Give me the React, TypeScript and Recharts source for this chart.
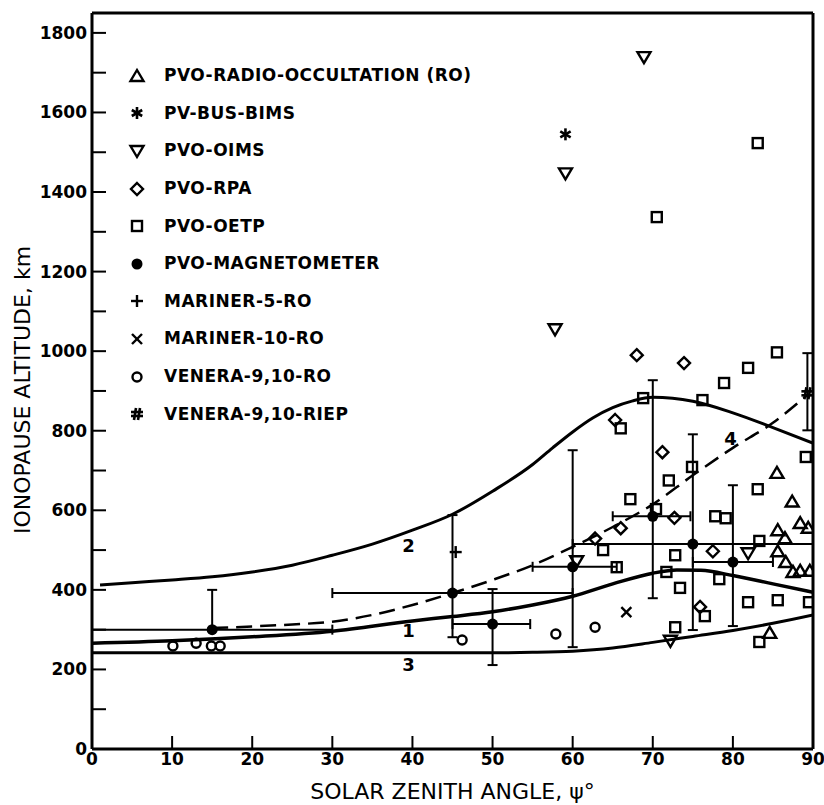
import React from 'react';
import { ComposedChart, Line, Scatter, XAxis, YAxis, ErrorBar, Legend, Label } from 'recharts';

const FONT = "'DejaVu Sans', sans-serif";

// axis ticks
const xTicks = [0, 10, 20, 30, 40, 50, 60, 70, 80, 90];
const xTopTicks = [10, 20, 30, 40, 50, 60, 70, 80];
const yTicks = [0, 100, 200, 300, 400, 500, 600, 700, 800, 900, 1000, 1100, 1200, 1300, 1400, 1500, 1600, 1700, 1800];
const yRightTicks = [100, 200, 300, 400, 500, 600, 700, 800, 900, 1000, 1100, 1200, 1300, 1400, 1500, 1600, 1700, 1800];

// model curves
const curve1 = [
  { x: 0, y: 266 }, { x: 10, y: 272 }, { x: 20, y: 282 }, { x: 30, y: 296 }, { x: 40, y: 322 },
  { x: 45, y: 333 }, { x: 50, y: 345 }, { x: 55, y: 362 }, { x: 60, y: 384 }, { x: 65, y: 415 },
  { x: 70, y: 442 }, { x: 73, y: 450 }, { x: 76, y: 449 }, { x: 80, y: 436 }, { x: 85, y: 415 }, { x: 90, y: 394 },
];
const curve2 = [
  { x: 1, y: 412 }, { x: 5, y: 418 }, { x: 10, y: 425 }, { x: 15, y: 433 }, { x: 20, y: 445 },
  { x: 25, y: 462 }, { x: 30, y: 487 }, { x: 35, y: 515 }, { x: 40, y: 550 }, { x: 45, y: 590 },
  { x: 50, y: 648 }, { x: 55, y: 715 }, { x: 57.5, y: 757 }, { x: 60, y: 797 }, { x: 62.5, y: 832 },
  { x: 65, y: 858 }, { x: 67.5, y: 875 }, { x: 70, y: 884 }, { x: 75, y: 874 }, { x: 80, y: 845 },
  { x: 85, y: 808 }, { x: 90, y: 769 },
];
const curve3 = [
  { x: 0, y: 242 }, { x: 20, y: 242 }, { x: 40, y: 242 }, { x: 50, y: 242 }, { x: 55, y: 243 },
  { x: 60, y: 246 }, { x: 65, y: 254 }, { x: 70, y: 268 }, { x: 75, y: 283 }, { x: 80, y: 298 },
  { x: 85, y: 316 }, { x: 90, y: 337 },
];
const curve4 = [
  { x: 15, y: 304 }, { x: 20, y: 308 }, { x: 25, y: 313 }, { x: 30, y: 320 }, { x: 35, y: 337 },
  { x: 40, y: 362 }, { x: 45, y: 392 }, { x: 50, y: 425 }, { x: 55, y: 462 }, { x: 60, y: 508 },
  { x: 65, y: 558 }, { x: 70, y: 615 }, { x: 75, y: 688 }, { x: 80, y: 757 }, { x: 85, y: 820 }, { x: 89.3, y: 890 },
];
const curveLabels = [
  { x: 39.5, y: 512, text: '2' },
  { x: 39.5, y: 297, text: '1' },
  { x: 39.5, y: 212, text: '3' },
  { x: 79.7, y: 781, text: '4' },
];

// observations
const roPoints = [
  { x: 84.6, y: 292 }, { x: 85.5, y: 694 }, { x: 87.4, y: 622 }, { x: 88.4, y: 568 }, { x: 89.4, y: 556 },
  { x: 85.6, y: 550 }, { x: 86.5, y: 530 }, { x: 85.6, y: 497 }, { x: 86.6, y: 470 }, { x: 87.5, y: 445 },
  { x: 88.4, y: 448 }, { x: 89.6, y: 448 },
];
const bimsPoints = [{ x: 59.1, y: 1545 }];
const oimsPoints = [
  { x: 68.9, y: 1739 }, { x: 59.1, y: 1447 }, { x: 57.8, y: 1055 }, { x: 60.5, y: 472 },
  { x: 81.9, y: 492 }, { x: 72.2, y: 272 },
];
const rpaPoints = [
  { x: 68.0, y: 990 }, { x: 73.9, y: 970 }, { x: 65.3, y: 827 }, { x: 71.2, y: 746 }, { x: 72.7, y: 581 },
  { x: 66.0, y: 555 }, { x: 62.8, y: 529 }, { x: 77.5, y: 497 }, { x: 75.9, y: 357 },
];
const oetpPoints = [
  { x: 83.1, y: 1523 }, { x: 70.5, y: 1337 }, { x: 85.5, y: 997 }, { x: 81.9, y: 958 }, { x: 78.9, y: 920 },
  { x: 68.8, y: 882 }, { x: 76.2, y: 877 }, { x: 66.0, y: 806 }, { x: 89.1, y: 734 }, { x: 74.9, y: 709 },
  { x: 72.0, y: 675 }, { x: 83.1, y: 653 }, { x: 67.2, y: 628 }, { x: 70.4, y: 603 }, { x: 77.8, y: 585 },
  { x: 79.1, y: 580 }, { x: 83.3, y: 523 }, { x: 63.8, y: 500 }, { x: 72.8, y: 487 }, { x: 65.5, y: 457 },
  { x: 71.7, y: 445 }, { x: 78.3, y: 427 }, { x: 73.4, y: 405 }, { x: 81.9, y: 369 }, { x: 85.6, y: 374 },
  { x: 89.5, y: 369 }, { x: 76.5, y: 334 }, { x: 72.8, y: 306 }, { x: 83.3, y: 269 },
];
const magPoints = [
  { x: 15, y: 300, ex: [15, 15], ey: [0, 100] },
  { x: 45, y: 392, ex: [15, 15], ey: [111, 196] },
  { x: 50, y: 314, ex: [5, 4.7], ey: [103, 88] },
  { x: 60, y: 458, ex: [5, 5.5], ey: [202, 293] },
  { x: 70, y: 585, ex: [5, 4.7], ey: [206, 342] },
  { x: 75, y: 515, ex: [15, 15], ey: [216, 276] },
  { x: 80, y: 470, ex: [5, 5], ey: [161, 193] },
];
const mariner5Points = [{ x: 45.4, y: 495 }];
const mariner10Points = [{ x: 66.7, y: 344 }];
const veneraRoPoints = [
  { x: 10.1, y: 259 }, { x: 13.0, y: 266 }, { x: 14.9, y: 259 }, { x: 16.0, y: 259 },
  { x: 46.2, y: 274 }, { x: 57.9, y: 289 }, { x: 62.8, y: 306 },
];
const veneraRiepPoints = [{ x: 89.3, y: 894, ey: [93, 101] }];

const legendItems = [
  { kind: 'tri', label: 'PVO-RADIO-OCCULTATION (RO)' },
  { kind: 'star', label: 'PV-BUS-BIMS' },
  { kind: 'tridown', label: 'PVO-OIMS' },
  { kind: 'diamond', label: 'PVO-RPA' },
  { kind: 'square', label: 'PVO-OETP' },
  { kind: 'dot', label: 'PVO-MAGNETOMETER' },
  { kind: 'plus', label: 'MARINER-5-RO' },
  { kind: 'cross', label: 'MARINER-10-RO' },
  { kind: 'circle', label: 'VENERA-9,10-RO' },
  { kind: 'hash', label: 'VENERA-9,10-RIEP' },
];

function marker(kind: string, cx: number, cy: number) {
  const s = { fill: 'none', stroke: '#000', strokeWidth: 2.4 };
  switch (kind) {
    case 'tri':
      return <path d={`M${cx},${cy - 6}L${cx + 6.5},${cy + 5}L${cx - 6.5},${cy + 5}Z`} {...s} />;
    case 'tridown':
      return <path d={`M${cx},${cy + 6}L${cx + 6.5},${cy - 5}L${cx - 6.5},${cy - 5}Z`} {...s} />;
    case 'diamond':
      return <path d={`M${cx},${cy - 6}L${cx + 6},${cy}L${cx},${cy + 6}L${cx - 6},${cy}Z`} {...s} />;
    case 'square':
      return <rect x={cx - 5} y={cy - 5} width={10} height={10} {...s} />;
    case 'dot':
      return <circle cx={cx} cy={cy} r={5.5} fill="#000" />;
    case 'circle':
      return <circle cx={cx} cy={cy} r={4.5} {...s} />;
    case 'plus':
      return (
        <g stroke="#000" strokeWidth={2.4}>
          <line x1={cx - 6} y1={cy} x2={cx + 6} y2={cy} />
          <line x1={cx} y1={cy - 6} x2={cx} y2={cy + 6} />
        </g>
      );
    case 'cross':
      return (
        <g stroke="#000" strokeWidth={2.4}>
          <line x1={cx - 5} y1={cy - 5} x2={cx + 5} y2={cy + 5} />
          <line x1={cx - 5} y1={cy + 5} x2={cx + 5} y2={cy - 5} />
        </g>
      );
    case 'star':
      return (
        <g stroke="#000" strokeWidth={2.6}>
          <line x1={cx} y1={cy - 6} x2={cx} y2={cy + 6} />
          <line x1={cx - 5.2} y1={cy - 3} x2={cx + 5.2} y2={cy + 3} />
          <line x1={cx - 5.2} y1={cy + 3} x2={cx + 5.2} y2={cy - 3} />
        </g>
      );
    case 'hash':
      return (
        <g stroke="#000" strokeWidth={2.6}>
          <line x1={cx - 1} y1={cy - 6} x2={cx - 3} y2={cy + 6} />
          <line x1={cx + 3} y1={cy - 6} x2={cx + 1} y2={cy + 6} />
          <line x1={cx - 6} y1={cy - 2} x2={cx + 6} y2={cy - 2} />
          <line x1={cx - 6} y1={cy + 2} x2={cx + 6} y2={cy + 2} />
        </g>
      );
    default:
      return <g />;
  }
}

const shapeOf = (kind: string) => (p: any) => marker(kind, p.cx, p.cy);

const axisLine = { stroke: '#000', strokeWidth: 3 };
const tickLine = { stroke: '#000', strokeWidth: 2 };
const tickFont = { fill: '#000', fontSize: 17, fontWeight: 'bold', fontFamily: FONT };

function renderLegend() {
  return (
    <div style={{ fontFamily: FONT, fontWeight: 'bold', fontSize: 17, color: '#000', lineHeight: 1 }}>
      {legendItems.map((it) => (
        <div key={it.label} style={{ display: 'flex', alignItems: 'center', height: 37.6 }}>
          <svg width={18} height={18} style={{ marginRight: 18, flex: 'none' }}>
            {marker(it.kind, 9, 9)}
          </svg>
          <span style={{ whiteSpace: 'nowrap', letterSpacing: 0.5 }}>{it.label}</span>
        </div>
      ))}
    </div>
  );
}

export default function App() {
  return (
    <div style={{ position: 'absolute', left: 0, top: 0, background: '#fff' }}>
      <ComposedChart width={824} height={805} margin={{ top: 0, right: 0, bottom: 0, left: 0 }}>
        <XAxis
          type="number"
          dataKey="x"
          domain={[0, 90]}
          ticks={xTicks}
          allowDataOverflow
          height={56}
          axisLine={axisLine}
          tickLine={tickLine}
          tickSize={-13}
          tickMargin={17}
          tick={tickFont}
          interval={0}
        >
          <Label
            content={(props: any) => {
              const vb = props.viewBox || { x: 92, y: 749, width: 721, height: 56 };
              return (
                <text
                  x={vb.x + vb.width / 2}
                  y={vb.y + vb.height - 6}
                  textAnchor="middle"
                  fontFamily={FONT}
                  fontSize={22}
                  fill="#000"
                >
                  SOLAR ZENITH ANGLE, ψ°
                </text>
              );
            }}
          />
        </XAxis>
        <XAxis
          xAxisId="top"
          orientation="top"
          type="number"
          domain={[0, 90]}
          ticks={xTopTicks}
          height={13}
          axisLine={axisLine}
          tickLine={tickLine}
          tickSize={-13}
          tick={false}
          interval={0}
        />
        <YAxis
          type="number"
          dataKey="y"
          domain={[0, 1850]}
          ticks={yTicks}
          allowDataOverflow
          width={92}
          axisLine={axisLine}
          tickLine={tickLine}
          tickSize={-14}
          tickMargin={19}
          tick={tickFont}
          interval={0}
          tickFormatter={(v: number) => (v % 200 === 0 ? String(v) : '')}
        >
          <Label
            content={(props: any) => {
              const vb = props.viewBox || { x: 0, y: 13, width: 92, height: 736 };
              const cx = vb.x + 22;
              const cy = vb.y + vb.height / 2 + 9;
              return (
                <text
                  x={cx}
                  y={cy}
                  transform={`rotate(-90 ${cx} ${cy})`}
                  textAnchor="middle"
                  dominantBaseline="central"
                  fontFamily={FONT}
                  fontSize={22}
                  fill="#000"
                >
                  IONOPAUSE ALTITUDE, km
                </text>
              );
            }}
          />
        </YAxis>
        <YAxis
          yAxisId="right"
          orientation="right"
          type="number"
          domain={[0, 1850]}
          ticks={yRightTicks}
          width={11}
          axisLine={axisLine}
          tickLine={tickLine}
          tickSize={-13}
          tick={false}
          interval={0}
        />

        <Line data={curve3} dataKey="y" type="monotone" stroke="#000" strokeWidth={3} dot={false} isAnimationActive={false} />
        <Line data={curve1} dataKey="y" type="monotone" stroke="#000" strokeWidth={3.5} dot={false} isAnimationActive={false} />
        <Line data={curve2} dataKey="y" type="monotone" stroke="#000" strokeWidth={3} dot={false} isAnimationActive={false} />
        <Line data={curve4} dataKey="y" type="monotone" stroke="#000" strokeWidth={2.5} strokeDasharray="16 8" dot={false} isAnimationActive={false} />

        <Scatter data={magPoints} dataKey="y" shape={shapeOf('dot')} isAnimationActive={false}>
          <ErrorBar dataKey="ey" direction="y" width={5} stroke="#000" strokeWidth={2} />
          <ErrorBar dataKey="ex" direction="x" width={5} stroke="#000" strokeWidth={2} />
        </Scatter>
        <Scatter data={veneraRiepPoints} dataKey="y" shape={shapeOf('hash')} isAnimationActive={false}>
          <ErrorBar dataKey="ey" direction="y" width={5} stroke="#000" strokeWidth={2} />
        </Scatter>
        <Scatter data={roPoints} dataKey="y" shape={shapeOf('tri')} isAnimationActive={false} />
        <Scatter data={bimsPoints} dataKey="y" shape={shapeOf('star')} isAnimationActive={false} />
        <Scatter data={oimsPoints} dataKey="y" shape={shapeOf('tridown')} isAnimationActive={false} />
        <Scatter data={rpaPoints} dataKey="y" shape={shapeOf('diamond')} isAnimationActive={false} />
        <Scatter data={oetpPoints} dataKey="y" shape={shapeOf('square')} isAnimationActive={false} />
        <Scatter data={mariner5Points} dataKey="y" shape={shapeOf('plus')} isAnimationActive={false} />
        <Scatter data={mariner10Points} dataKey="y" shape={shapeOf('cross')} isAnimationActive={false} />
        <Scatter data={veneraRoPoints} dataKey="y" shape={shapeOf('circle')} isAnimationActive={false} />
        <Scatter
          data={curveLabels}
          dataKey="y"
          isAnimationActive={false}
          shape={(p: any) => (
            <text x={p.cx} y={p.cy} textAnchor="middle" dominantBaseline="central" fontFamily={FONT} fontWeight="bold" fontSize={18} fill="#000">
              {p.payload.text}
            </text>
          )}
        />

        <Legend
          layout="vertical"
          align="center"
          verticalAlign="middle"
          wrapperStyle={{ position: 'absolute', left: 128, top: 57, width: 420 }}
          content={renderLegend}
        />
      </ComposedChart>
    </div>
  );
}
